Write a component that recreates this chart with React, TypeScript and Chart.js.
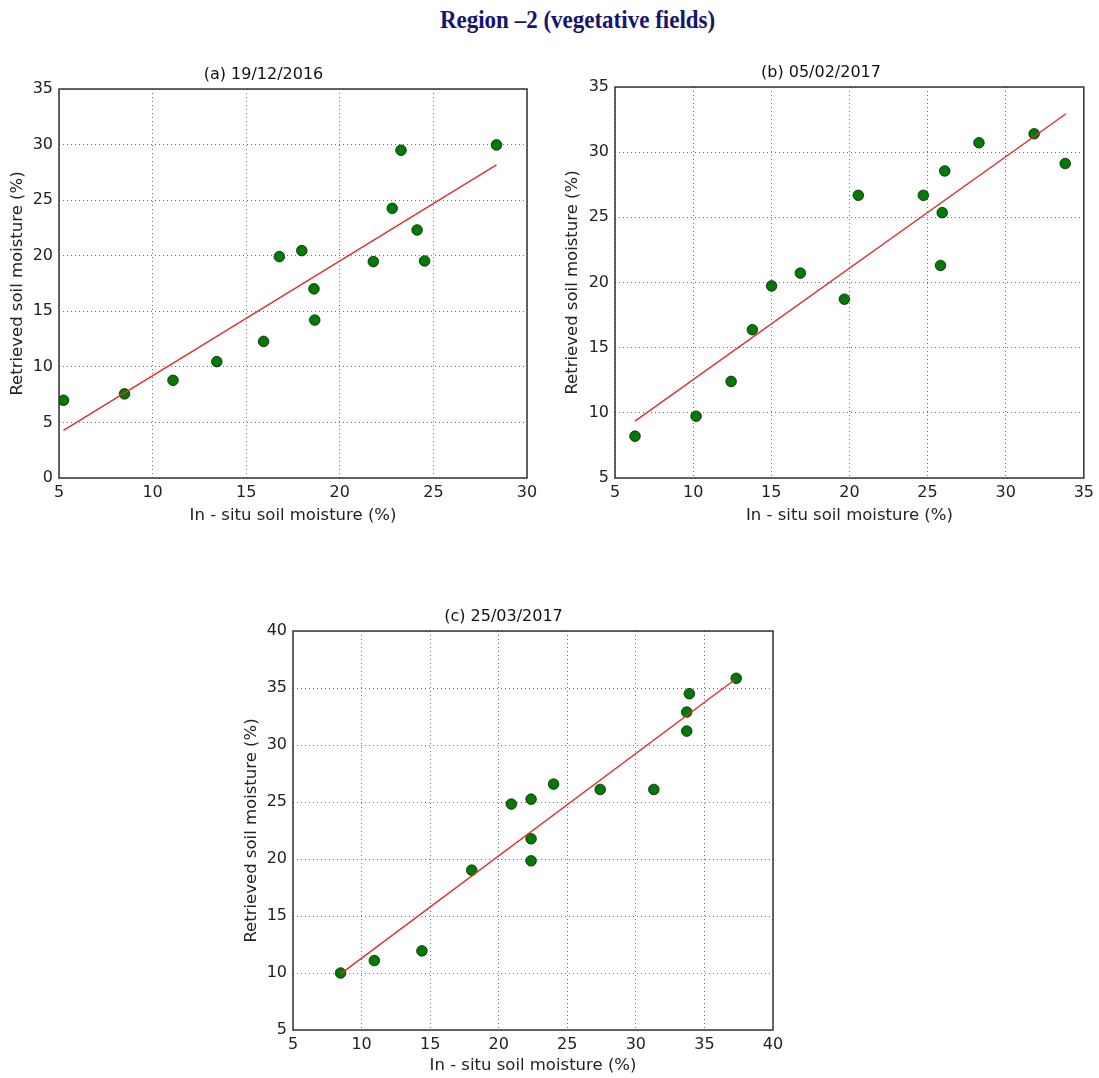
import React, { useEffect, useRef } from "react";
import { Chart, registerables } from "chart.js";

Chart.register(...registerables);

const MAIN_TITLE = "Region –2 (vegetative fields)";
const X_LABEL = "In - situ soil moisture (%)";
const Y_LABEL = "Retrieved soil moisture (%)";

// Panel (a)
const titleA = "(a) 19/12/2016";
const insituA = [5.24, 8.5, 11.09, 13.43, 15.93, 16.77, 17.97, 18.62, 18.66, 21.79, 22.8, 23.27, 24.13, 24.53, 28.37];
const retrievedA = [7.0, 7.57, 8.79, 10.47, 12.29, 19.92, 20.46, 17.02, 14.21, 19.47, 24.26, 29.49, 22.32, 19.53, 29.97];
const fitXA = [5.24, 28.37];
const fitYA = [4.28, 28.18];
const xRangeA = [5, 30];
const yRangeA = [0, 35];

// Panel (b)
const titleB = "(b) 05/02/2017";
const insituB = [6.28, 10.19, 12.43, 13.79, 15.02, 16.86, 19.68, 20.57, 24.73, 25.83, 25.94, 26.1, 28.29, 31.82, 33.81];
const retrievedB = [8.21, 9.74, 12.41, 16.38, 19.74, 20.72, 18.72, 26.69, 26.69, 21.31, 25.36, 28.56, 30.72, 31.41, 29.13];
const fitXB = [6.28, 33.86];
const fitYB = [9.36, 32.95];
const xRangeB = [5, 35];
const yRangeB = [5, 35];

// Panel (c)
const titleC = "(c) 25/03/2017";
const insituC = [8.47, 10.93, 14.4, 18.03, 20.92, 22.36, 22.36, 22.36, 24.0, 27.4, 31.31, 33.71, 33.71, 33.9, 37.32];
const retrievedC = [10.0, 11.09, 11.94, 19.02, 24.82, 25.25, 21.77, 19.84, 26.57, 26.1, 26.1, 31.22, 32.89, 34.5, 35.85];
const fitXC = [8.47, 37.18];
const fitYC = [9.92, 35.7];
const xRangeC = [5, 40];
const yRangeC = [5, 40];

const TICK_STEP = 5;

const FONT = "'DejaVu Sans', sans-serif";

const framePlugin = {
  id: "frame",
  afterDraw(chart: any) {
    const { ctx, chartArea } = chart;
    if (!chartArea) return;
    ctx.save();
    ctx.strokeStyle = "#333333";
    ctx.lineWidth = 1.5;
    ctx.strokeRect(chartArea.left, chartArea.top, chartArea.right - chartArea.left, chartArea.bottom - chartArea.top);
    ctx.restore();
  },
};

type PanelProps = {
  title: string;
  xs: number[];
  ys: number[];
  fitX: number[];
  fitY: number[];
  xRange: number[];
  yRange: number[];
  left: number;
  top: number;
  width: number;
  height: number;
  yAxisWidth: number;
  xAxisHeight: number;
  rightPad: number;
  xTitlePadBottom: number;
};

function Panel(p: PanelProps) {
  const ref = useRef<HTMLCanvasElement | null>(null);
  useEffect(() => {
    if (!ref.current) return;
    const scatterData = p.xs.map((x, i) => ({ x, y: p.ys[i] }));
    const lineData = p.fitX.map((x, i) => ({ x, y: p.fitY[i] }));
    const grid = {
      color: "#707070",
      lineWidth: 1,
      drawTicks: false,
    };
    const chart = new Chart(ref.current, {
      type: "scatter",
      data: {
        datasets: [
          {
            type: "line",
            data: lineData,
            borderColor: "rgb(226, 45, 45)",
            borderWidth: 1.4,
            pointRadius: 0,
            fill: false,
            tension: 0,
          } as any,
          {
            type: "scatter",
            data: scatterData,
            backgroundColor: "#007a00",
            borderColor: "#0a200a",
            borderWidth: 0.8,
            pointRadius: 5.3,
          },
        ],
      },
      options: {
        animation: false,
        responsive: false,
        maintainAspectRatio: false,
        layout: { padding: { left: 0, right: p.rightPad, top: 0, bottom: 0 } },
        plugins: {
          legend: { display: false },
          tooltip: { enabled: false },
          title: {
            display: true,
            text: p.title,
            color: "#111111",
            font: { family: FONT, size: 16, weight: "normal" },
            padding: { top: 5, bottom: 4.8 },
          },
        },
        scales: {
          x: {
            type: "linear",
            min: p.xRange[0],
            max: p.xRange[1],
            ticks: { stepSize: TICK_STEP, color: "#222222", font: { family: FONT, size: 16 }, padding: 5, maxRotation: 0 },
            grid: { ...grid } as any,
            border: { display: false, dash: [1, 3] } as any,
            title: {
              display: true,
              text: X_LABEL,
              color: "#222222",
              font: { family: FONT, size: 16.5 },
              padding: { top: 0, bottom: p.xTitlePadBottom },
            },
            afterFit: (scale: any) => {
              scale.height = p.xAxisHeight;
            },
          },
          y: {
            type: "linear",
            min: p.yRange[0],
            max: p.yRange[1],
            ticks: { stepSize: TICK_STEP, color: "#222222", font: { family: FONT, size: 16 }, padding: 6 },
            grid: { ...grid } as any,
            border: { display: false, dash: [1, 3] } as any,
            title: {
              display: true,
              text: Y_LABEL,
              color: "#222222",
              font: { family: FONT, size: 16.5 },
              padding: { top: 8, bottom: 0 },
            },
            afterFit: (scale: any) => {
              scale.width = p.yAxisWidth;
            },
          },
        },
      },
      plugins: [framePlugin],
    });
    return () => chart.destroy();
  }, []);
  return (
    <canvas
      ref={ref}
      width={p.width}
      height={p.height}
      style={{ position: "absolute", left: p.left, top: p.top, width: p.width, height: p.height }}
    />
  );
}

export default function App() {
  return (
    <div
      style={{
        position: "absolute",
        left: 0,
        top: 0,
        width: 1099,
        height: 1078,
        overflow: "hidden",
        background: "#ffffff",
      }}
    >
      <div
        style={{
          position: "absolute",
          left: 26,
          top: 6,
          width: 1099,
          textAlign: "center",
          fontFamily: "'Liberation Serif', 'Times New Roman', serif",
          fontWeight: "bold",
          fontSize: 25,
          color: "#15156e",
          transform: "scaleX(0.92)",
          transformOrigin: "575px 0",
        }}
      >
        {MAIN_TITLE}
      </div>
      <Panel
        title={titleA}
        xs={insituA}
        ys={retrievedA}
        fitX={fitXA}
        fitY={fitYA}
        xRange={xRangeA}
        yRange={yRangeA}
        left={0}
        top={60}
        width={545}
        height={470}
        yAxisWidth={59}
        xAxisHeight={52}
        rightPad={18}
        xTitlePadBottom={4}
      />
      <Panel
        title={titleB}
        xs={insituB}
        ys={retrievedB}
        fitX={fitXB}
        fitY={fitYB}
        xRange={xRangeB}
        yRange={yRangeB}
        left={555}
        top={58}
        width={544}
        height={472}
        yAxisWidth={60}
        xAxisHeight={52}
        rightPad={12}
        xTitlePadBottom={4}
      />
      <Panel
        title={titleC}
        xs={insituC}
        ys={retrievedC}
        fitX={fitXC}
        fitY={fitYC}
        xRange={xRangeC}
        yRange={yRangeC}
        left={234}
        top={602}
        width={560}
        height={476}
        yAxisWidth={59}
        xAxisHeight={48}
        rightPad={21}
        xTitlePadBottom={2}
      />
    </div>
  );
}
